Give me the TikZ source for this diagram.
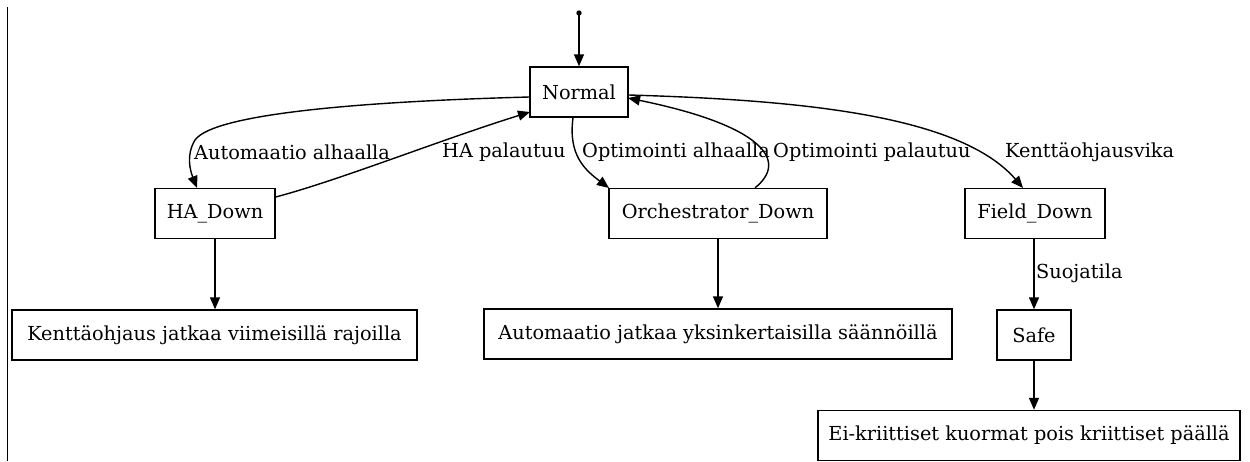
\documentclass[tikz,border=0pt]{standalone}
\usepackage{fontspec}
\setmainfont{DejaVu Serif}
\usetikzlibrary{arrows.meta}
\begin{document}
\begin{tikzpicture}[x=1pt,y=-1pt,
  state/.style={draw,line width=1.4pt,rectangle,inner sep=0pt,minimum height=50pt,font=\fontsize{19.3}{22}\selectfont},
  lbl/.style={font=\fontsize{19.3}{22}\selectfont,inner sep=0pt},
  edge/.style={line width=1.4pt,-{Triangle[length=12pt,width=10pt]}}]
\useasboundingbox (0,0) rectangle (1250,461);
\draw[line width=0.9pt] (7,7) -- (7,461);
\coordinate (init) at (579,13);
\fill (init) circle (2.7pt);
\node[state,minimum width=98pt] (normal) at (579,92) {Normal};
\node[state,minimum width=120pt] (ha) at (215,213.5) {HA\_Down};
\node[state,minimum width=218pt] (orch) at (718,213.5) {Orchestrator\_Down};
\node[state,minimum width=140pt] (field) at (1035,213.5) {Field\_Down};
\node[state,minimum width=405pt] (kent) at (214.5,335) {Kenttäohjaus jatkaa viimeisillä rajoilla};
\node[state,minimum width=468pt] (autom) at (718,334) {Automaatio jatkaa yksinkertaisilla säännöillä};
\node[state,minimum width=74pt] (safe) at (1034,335) {Safe};
\node[state,minimum width=422pt] (ei) at (1029,435.5) {Ei-kriittiset kuormat pois kriittiset päällä};
\draw[edge] (init) -- (normal.north);
\draw[edge] (normal.west |- 0,97) .. controls (380,101) and (215,112) .. (195,140) .. controls (186,155) and (190,170) .. (197,188);
\node[lbl,anchor=west] (l1) at (194,152) {Automaatio alhaalla};
\draw[edge] (ha.east |- 0,197) .. controls (340,180) and (440,140) .. (530,112);
\node[lbl,anchor=west] (l2) at (442,152) {HA palautuu};
\draw[edge] (normal.south -| 573,0) .. controls (568,155) and (585,170) .. (609,188);
\node[lbl,anchor=west] (l3) at (582,152) {Optimointi alhaalla};
\draw[edge] (orch.north -| 755,0) .. controls (790,160) and (760,125) .. (628,98);
\node[lbl,anchor=west] (l4) at (773,152) {Optimointi palautuu};
\draw[edge] (normal.east |- 0,95) .. controls (800,100) and (960,115) .. (1023,188);
\node[lbl,anchor=west] (l5) at (1005,152) {Kenttäohjausvika};
\draw[edge] (ha.south) -- (kent.north -| ha.south);
\draw[edge] (orch.south -| autom.north) -- (autom.north);
\draw[edge] (field.south -| safe.north) -- (safe.north);
\node[lbl,anchor=west] (l6) at (1036,273) {Suojatila};
\draw[edge] (safe.south) -- (ei.north -| safe.south);
\end{tikzpicture}
\end{document}
